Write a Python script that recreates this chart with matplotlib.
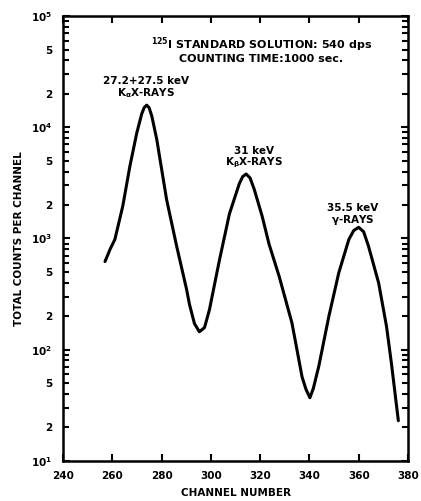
import numpy as np
import matplotlib
matplotlib.use("Agg")
import matplotlib.pyplot as plt
from matplotlib.ticker import LogLocator, FuncFormatter, FixedLocator

# spectrum (channel, counts per channel)
channel = [257.0, 259.0, 261.0, 264.2, 267.1, 269.9, 271.9, 272.9, 273.9, 274.9,
           276.0, 278.0, 282.0, 286.1, 290.1, 291.3, 293.3, 295.3, 297.4, 299.4,
           303.4, 307.5, 311.5, 312.9, 314.3, 315.9, 317.6, 320.8, 323.6, 327.7,
           332.9, 337.0, 338.6, 340.2, 341.6, 343.8, 347.9, 351.9, 356.0, 358.0,
           360.0, 362.0, 364.0, 368.1, 371.3, 373.3, 376.1]
counts = [620, 795, 980, 1950, 4470, 8900, 13200, 15000, 15800, 15000,
          12600, 7800, 2240, 850, 350, 255, 172, 145, 158, 229,
          630, 1660, 3100, 3600, 3800, 3500, 2760, 1585, 890, 457,
          174, 57, 44, 37, 45, 71, 200, 490, 980, 1180,
          1260, 1150, 850, 398, 162, 75, 23]

x_ticks = [240, 260, 280, 300, 320, 340, 360, 380]

peak_labels = ["27.2+27.5 keV\nK$_\\alpha$X-RAYS",
               "31 keV\nK$_\\beta$X-RAYS",
               "35.5 keV\n$\\gamma$-RAYS"]
peak_pos = [(273.5, 1.75e4), (317.5, 4.1e3), (357.5, 1.28e3)]

plt.rcParams['font.family'] = 'DejaVu Sans'
plt.rcParams['font.weight'] = 'bold'
plt.rcParams['mathtext.default'] = 'bf'

fig = plt.figure(figsize=(4.21, 5.01), dpi=100)
ax = fig.add_axes([0.150, 0.080, 0.819, 0.888])

ax.plot(channel, counts, color='black', lw=2.2, solid_joinstyle='round',
        solid_capstyle='round')

ax.set_yscale('log')
ax.set_xlim(240, 380)
ax.set_ylim(10, 1e5)

ax.xaxis.set_major_locator(FixedLocator(x_ticks))
ax.yaxis.set_major_locator(LogLocator(base=10))
ax.yaxis.set_minor_locator(LogLocator(base=10, subs=np.arange(2, 10)))


def major_fmt(v, pos):
    return r'$\mathbf{10^{%d}}$' % int(round(np.log10(v)))


def minor_fmt(v, pos):
    lead = v / 10 ** np.floor(np.log10(v) + 1e-9)
    d = int(round(lead))
    return str(d) if d in (2, 5) else ''


ax.yaxis.set_major_formatter(FuncFormatter(major_fmt))
ax.yaxis.set_minor_formatter(FuncFormatter(minor_fmt))

ax.tick_params(axis='both', which='both', direction='in', width=1.5,
               labelsize=7.5, pad=8)
ax.tick_params(axis='y', which='both', right=True)
ax.tick_params(axis='x', which='both', top=True)
ax.tick_params(which='major', length=5)
ax.tick_params(which='minor', length=4)
ax.tick_params(axis='x', pad=7)
for s in ax.spines.values():
    s.set_linewidth(1.8)

ax.set_xlabel('CHANNEL NUMBER', fontsize=7.5, fontweight='bold', labelpad=5)
ax.set_ylabel('TOTAL COUNTS PER CHANNEL', fontsize=7.5, fontweight='bold',
              labelpad=5)

ax.text(0.575, 0.957, '$^{125}$I STANDARD SOLUTION: 540 dps\nCOUNTING TIME:1000 sec.',
        transform=ax.transAxes, ha='center', va='top', fontsize=8,
        fontweight='bold', linespacing=1.0)

for lab, (px, py) in zip(peak_labels, peak_pos):
    ax.text(px, py, lab, ha='center', va='bottom', fontsize=7.5,
            fontweight='bold', linespacing=1.0)

fig.savefig('out.png', dpi=100)
